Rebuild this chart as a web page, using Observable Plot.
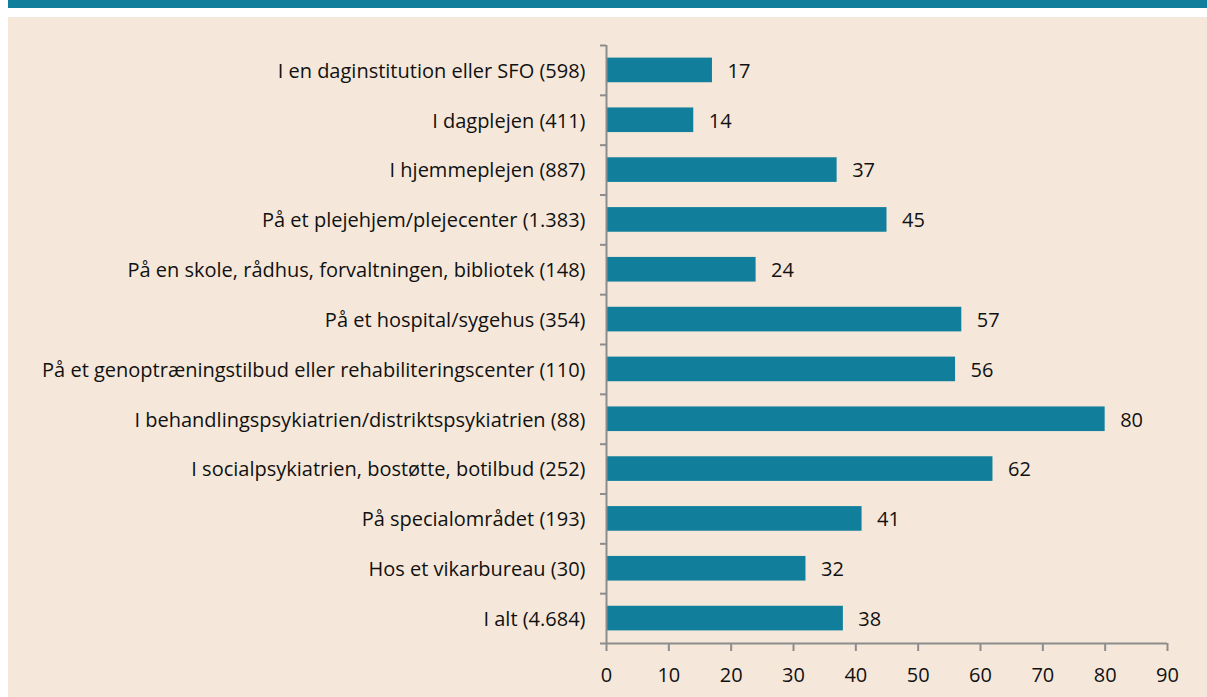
<!DOCTYPE html>
<html>
<head>
<meta charset="utf-8">
<script src="https://cdn.jsdelivr.net/npm/d3@7"></script>
<script src="https://cdn.jsdelivr.net/npm/@observablehq/plot@0.6"></script>
<style>
  html, body { margin: 0; padding: 0; background: #ffffff; }
  #band { position: absolute; left: 8px; top: 0; width: 1199px; height: 8px; background: #117f9b; }
  #panel { position: absolute; left: 8px; top: 17px; width: 1199px; height: 680px; background: #f5e8da; }
  svg { font-family: "Open Sans", sans-serif; }
</style>
</head>
<body>
<div id="band"></div>
<div id="panel"></div>
<script>
const categories = [
  "I en daginstitution eller SFO (598)",
  "I dagplejen (411)",
  "I hjemmeplejen (887)",
  "På et plejehjem/plejecenter (1.383)",
  "På en skole, rådhus, forvaltningen, bibliotek (148)",
  "På et hospital/sygehus (354)",
  "På et genoptræningstilbud eller rehabiliteringscenter (110)",
  "I behandlingspsykiatrien/distriktspsykiatrien (88)",
  "I socialpsykiatrien, bostøtte, botilbud (252)",
  "På specialområdet (193)",
  "Hos et vikarbureau (30)",
  "I alt (4.684)"
];
const values = [17, 14, 37, 45, 24, 57, 56, 80, 62, 41, 32, 38];
const xTicks = [0, 10, 20, 30, 40, 50, 60, 70, 80, 90];

const data = categories.map((c, i) => ({category: c, index: i, value: values[i]}));
const n = categories.length;
const boundaries = d3.range(n + 1);
const centers = categories.map((c, i) => i + 0.5);
const axisColor = "#8c8c8c";
const barColor = "#117f9b";
const textColor = "#111111";

const chart = Plot.plot({
  width: 1199,
  height: 680,
  marginLeft: 598,
  marginRight: 40,
  marginTop: 28,
  marginBottom: 54,
  style: {background: "transparent", fontSize: "20px", color: textColor, fontFamily: "'Open Sans', sans-serif"},
  x: {domain: [0, 90]},
  y: {domain: [n, 0]},
  marks: [
    Plot.rectX(data, {x1: 0, x2: "value", y1: "index", y2: d => d.index + 1, fill: barColor, insetTop: 12.6, insetBottom: 12.6}),
    Plot.text(data, {x: "value", y: d => d.index + 0.5, text: d => String(d.value), textAnchor: "start", dx: 15, dy: 1, fontSize: 20, fill: textColor}),
    Plot.ruleX([0], {stroke: axisColor, strokeWidth: 2}),
    Plot.ruleY([n], {stroke: axisColor, strokeWidth: 2}),
    Plot.axisY({ticks: boundaries, tickSize: 6, tickFormat: () => "", stroke: axisColor, strokeWidth: 2, label: null}),
    Plot.axisY({ticks: centers, tickSize: 0, tickPadding: 21, tickFormat: d => categories[Math.floor(d)], label: null, fill: textColor, dy: 1}),
    Plot.axisX({ticks: xTicks, tickSize: 8, tickPadding: 16, stroke: axisColor, strokeWidth: 2, label: null, fill: textColor})
  ]
});
chart.style.position = "absolute";
chart.style.left = "0px";
chart.style.top = "0px";
document.getElementById("panel").appendChild(chart);
</script>
</body>
</html>
